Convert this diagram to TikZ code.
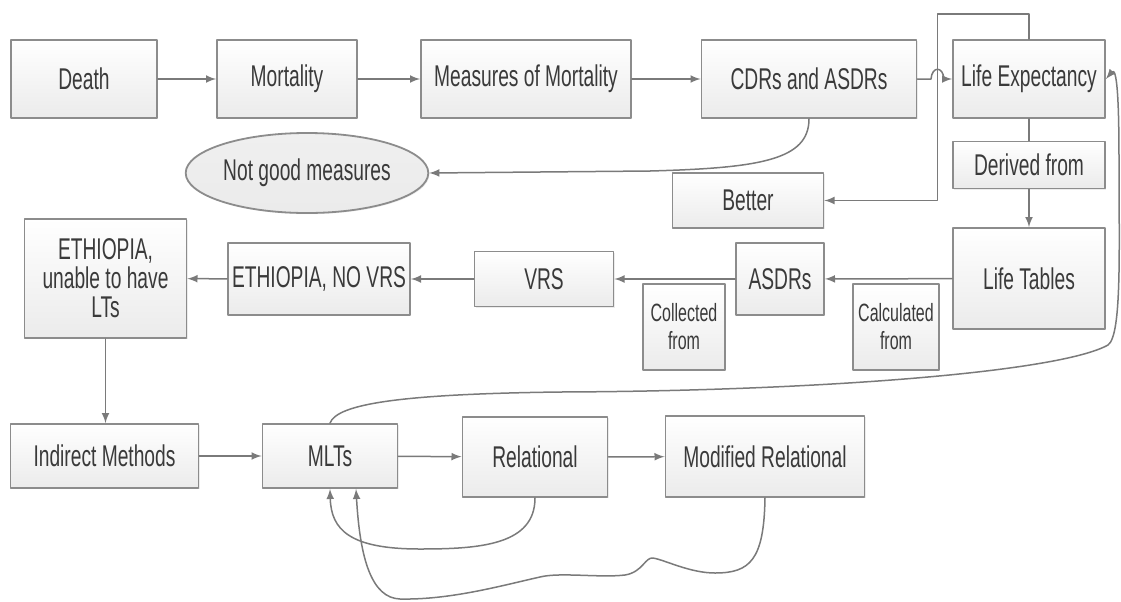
\documentclass[tikz,border=0pt]{standalone}
\usepackage{fontspec}
\setmainfont[FakeStretch=0.64]{Liberation Sans}
\usetikzlibrary{shapes.geometric,shadows}
\definecolor{boxline}{HTML}{8C8C8C}
\definecolor{arrowline}{HTML}{7A7A7A}
\definecolor{boxtop}{HTML}{FFFFFF}
\definecolor{boxbot}{HTML}{EBEBEB}
\definecolor{txt}{HTML}{3A3A3A}
\begin{document}
\begin{tikzpicture}[x=.5pt,y=-.5pt,line width=.75pt,>=latex,
  line cap=round,line join=round,font=\fontsize{15}{16}\selectfont,
  box/.style 2 args={draw=boxline,line width=.9pt,top color=boxtop,
    bottom color=boxbot,text=txt,minimum width=#1*.5pt,
    minimum height=#2*.5pt,inner sep=1pt,align=center,
    drop shadow={opacity=.15,shadow xshift=.6pt,shadow yshift=-.6pt}},
  small/.style={font=\fontsize{12.5}{14}\selectfont},
  link/.style={draw=arrowline}]
  \useasboundingbox (0,0) rectangle (1121,601);
  % top row
  \node[box={146}{78}] (death) at (84,79) {Death};
  \node[box={140}{78}] (mort) at (287,79) {Mortality};
  \node[box={210}{78}] (meas) at (526,79) {Measures of Mortality};
  \node[box={215}{78}] (cdrs) at (809,79) {CDRs and ASDRs};
  \node[box={152}{78}] (lifeexp) at (1029,79) {Life Expectancy};
  \node[box={152}{47}] (derived) at (1029,165) {Derived from};
  \node[box={151}{55}] (better) at (748,200.5) {Better};
  \node[box={228}{80},ellipse,top color=boxbot!80] (notgood) at (307,173)
    {Not good measures};
  % middle row
  \node[box={152}{101}] (lifetab) at (1029,278.5) {Life Tables};
  \node[box={88}{72}] (asdrs) at (780,279) {ASDRs};
  \node[box={86}{86},small] (calc) at (896,327) {Calculated\\from};
  \node[box={82}{86},small] (coll) at (684,327) {Collected\\from};
  \node[box={139}{55}] (vrs) at (544,279) {VRS};
  \node[box={182}{72}] (enovrs) at (319,279) {ETHIOPIA, NO VRS};
  \node[box={162}{119},font=\fontsize{15}{14.5}\selectfont] (eunable)
    at (105.5,278.5) {ETHIOPIA,\\unable to have\\LTs};
  % bottom row
  \node[box={188}{64}] (indirect) at (104.5,456) {Indirect Methods};
  \node[box={135}{64}] (mlts) at (330,456) {MLTs};
  \node[box={145}{80}] (relational) at (535,457) {Relational};
  \node[box={199}{81}] (modrel) at (765,456.5) {Modified Relational};
  % connectors
  \draw[link,->] (death) -- (mort);
  \draw[link,->] (mort) -- (meas);
  \draw[link,->] (meas) -- (cdrs);
  \draw[link,->] (cdrs.east) -- (931,79) .. controls (932,66) and (943,66)
    .. (944,79) -- (lifeexp.west);
  \draw[link,->] (lifeexp.north) |- (937.5,14) |- (better.east);
  \draw[link] (lifeexp) -- (derived);
  \draw[link,->] (derived) -- (lifetab);
  \draw[link,->] (cdrs.south) .. controls (809,160) and (760,168)
    .. (650,171) -- (notgood.east);
  \draw[link,->] (lifetab) -- (asdrs);
  \draw[link,->] (asdrs) -- (vrs);
  \draw[link,->] (vrs) -- (enovrs);
  \draw[link,->] (enovrs) -- (eunable);
  \draw[link,->] (eunable.south) -- (eunable.south |- indirect.north);
  \draw[link,->] (indirect) -- (mlts);
  \draw[link,->] (mlts) -- (relational);
  \draw[link,->] (relational) -- (modrel);
  % feedback curves
  \draw[link,->] (mlts.north) .. controls (337,404) and (400,394)
    .. (560,392) .. controls (820,391) and (1060,372) .. (1108,345)
    .. controls (1122,335) and (1119,250) .. (1119,160)
    .. controls (1119,100) and (1117,66) .. (lifeexp.east);
  \draw[link,->] (relational.south) .. controls (535,545) and (480,549)
    .. (420,549) .. controls (350,549) and (331,530) .. (mlts.south);
  \draw[link,->] (modrel.south) .. controls (764,560) and (750,573)
    .. (715,573) .. controls (690,573) and (665,560) .. (653,558)
    .. controls (645,557) and (643,572) .. (625,575)
    .. controls (600,578) and (560,572) .. (540,577)
    .. controls (500,586) and (450,600) .. (400,599)
    .. controls (372,598) and (360,560) .. ([xshift=13pt]mlts.south);
\end{tikzpicture}
\end{document}
